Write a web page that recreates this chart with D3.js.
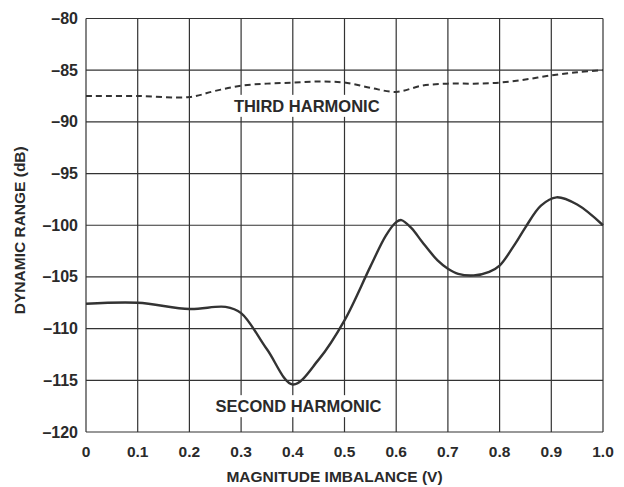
<!DOCTYPE html>
<html>
<head>
<meta charset="utf-8">
<script src="https://cdn.jsdelivr.net/npm/d3@7"></script>
<style>
  body { margin: 0; background: #fff; }
  svg text { font-family: "Liberation Sans", Arial, sans-serif; font-weight: bold; fill: #2a2a2a; }
</style>
</head>
<body>
<div id="chart"></div>
<script>
// imbalance (V) and dynamic range (dB)
const thirdX = [0, 0.1, 0.2, 0.25, 0.3, 0.35, 0.4, 0.45, 0.5, 0.55, 0.6, 0.65, 0.7, 0.75, 0.8, 0.85, 0.9, 0.95, 1.0];
const thirdY = [-87.5, -87.5, -87.6, -87.0, -86.5, -86.3, -86.2, -86.1, -86.2, -86.7, -87.1, -86.5, -86.3, -86.3, -86.2, -85.9, -85.5, -85.2, -85.0];

const secondX = [0, 0.1, 0.2, 0.27, 0.3, 0.35, 0.4, 0.45, 0.5, 0.55, 0.58, 0.6, 0.61, 0.63, 0.65, 0.68, 0.7, 0.72, 0.75, 0.78, 0.8, 0.83, 0.85, 0.88, 0.91, 0.95, 1.0];
const secondY = [-107.6, -107.5, -108.1, -107.9, -108.5, -112.0, -115.4, -113.0, -109.2, -104.0, -101.0, -99.7, -99.5, -100.3, -101.6, -103.4, -104.2, -104.7, -104.85, -104.5, -103.9, -101.8, -100.2, -98.1, -97.3, -98.0, -100.0];

const xTicks = [0, 0.1, 0.2, 0.3, 0.4, 0.5, 0.6, 0.7, 0.8, 0.9, 1.0];
const yTicks = [-80, -85, -90, -95, -100, -105, -110, -115, -120];
const xTickLabels = ['0', '0.1', '0.2', '0.3', '0.4', '0.5', '0.6', '0.7', '0.8', '0.9', '1.0'];

const W = 624, H = 487;
const margin = { left: 86, right: 21, top: 18.5, bottom: 55 };

const svg = d3.select('#chart').append('svg').attr('width', W).attr('height', H);

const x = d3.scaleLinear().domain([0, 1]).range([margin.left, W - margin.right]);
const y = d3.scaleLinear().domain([-120, -80]).range([H - margin.bottom, margin.top]);

const gridColor = '#333';

// grid
svg.append('g')
  .selectAll('line')
  .data(xTicks)
  .join('line')
  .attr('x1', (d) => x(d)).attr('x2', (d) => x(d))
  .attr('y1', y(-80)).attr('y2', y(-120))
  .attr('stroke', gridColor).attr('stroke-width', 1.2);

svg.append('g')
  .selectAll('line')
  .data(yTicks)
  .join('line')
  .attr('x1', x(0)).attr('x2', x(1))
  .attr('y1', (d) => y(d)).attr('y2', (d) => y(d))
  .attr('stroke', gridColor).attr('stroke-width', 1.2);

// series labels with white boxes over the grid
function seriesLabel(text, cx, cy, w) {
  svg.append('rect')
    .attr('x', cx - w / 2).attr('y', cy - 11)
    .attr('width', w).attr('height', 22)
    .attr('fill', '#fff');
  svg.append('text')
    .attr('x', cx).attr('y', cy)
    .attr('text-anchor', 'middle')
    .attr('dominant-baseline', 'central')
    .style('font-size', '16.5px')
    .text(text);
}
seriesLabel('THIRD HARMONIC', x(0.427), y(-88.45), 166);
seriesLabel('SECOND HARMONIC', x(0.411), y(-117.5), 182);

const line = d3.line()
  .x((d) => x(d[0]))
  .y((d) => y(d[1]))
  .curve(d3.curveCatmullRom.alpha(0.5));

svg.append('path')
  .datum(thirdX.map((v, i) => [v, thirdY[i]]))
  .attr('d', line)
  .attr('fill', 'none')
  .attr('stroke', '#333')
  .attr('stroke-width', 2)
  .attr('stroke-dasharray', '6,4');

svg.append('path')
  .datum(secondX.map((v, i) => [v, secondY[i]]))
  .attr('d', line)
  .attr('fill', 'none')
  .attr('stroke', '#333')
  .attr('stroke-width', 2.4);

// tick labels
svg.append('g')
  .selectAll('text')
  .data(yTicks)
  .join('text')
  .attr('x', x(0) - 8)
  .attr('y', (d) => y(d))
  .attr('text-anchor', 'end')
  .attr('dominant-baseline', 'central')
  .style('font-size', '16px')
  .text((d) => '\u2013' + Math.abs(d));

svg.append('g')
  .selectAll('text')
  .data(xTicks)
  .join('text')
  .attr('x', (d) => x(d))
  .attr('y', y(-120) + 19)
  .attr('text-anchor', 'middle')
  .attr('dominant-baseline', 'central')
  .style('font-size', '15.5px')
  .text((d, i) => xTickLabels[i]);

// axis titles
svg.append('text')
  .attr('x', (x(0) + x(1)) / 2 - 10)
  .attr('y', y(-120) + 44)
  .attr('text-anchor', 'middle')
  .attr('dominant-baseline', 'central')
  .style('font-size', '15.5px')
  .text('MAGNITUDE IMBALANCE (V)');

svg.append('text')
  .attr('transform', `translate(19, ${y(-100) + 5}) rotate(-90)`)
  .attr('text-anchor', 'middle')
  .attr('dominant-baseline', 'central')
  .style('font-size', '15.5px')
  .text('DYNAMIC RANGE (dB)');
</script>
</body>
</html>
